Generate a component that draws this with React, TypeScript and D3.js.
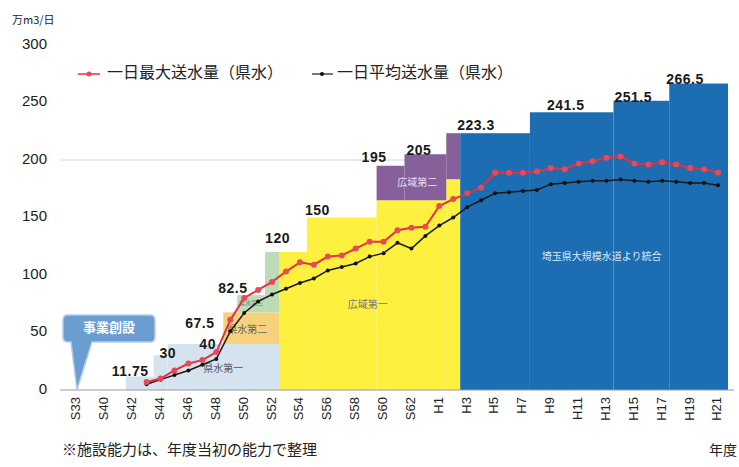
import React from 'react';
import * as d3 from 'd3';

// categories on the x axis (one unlabeled slot between S33 and S40)
const years = [
  'S33', ' ', 'S40', 'S41', 'S42', 'S43', 'S44', 'S45', 'S46', 'S47', 'S48', 'S49',
  'S50', 'S51', 'S52', 'S53', 'S54', 'S55', 'S56', 'S57', 'S58', 'S59', 'S60', 'S61',
  'S62', 'S63', 'H1', 'H2', 'H3', 'H4', 'H5', 'H6', 'H7', 'H8', 'H9', 'H10', 'H11',
  'H12', 'H13', 'H14', 'H15', 'H16', 'H17', 'H18', 'H19', 'H20', 'H21'
];

const lineYears = years.slice(5);

// 一日最大送水量（県水）
const maxFlow = [
  7, 10, 17, 23, 26, 33, 61, 80, 87, 94, 103, 111, 109, 116, 117, 123, 129, 129, 139, 141, 142,
  160, 166, 171, 176, 189, 189, 189, 190, 193, 192, 197, 199, 202, 203, 197, 196, 198, 196, 193, 192, 189
];

// 一日平均送水量（県水）
const avgFlow = [
  5, 9, 13, 17, 22, 27, 51, 67, 77, 83, 88, 93, 97, 104, 107, 110, 116, 119, 128, 123, 134,
  143, 150, 159, 165, 171, 172, 173, 174, 179, 180, 181, 182, 182, 183, 182, 181, 182, 181, 180, 180, 178
];

// 施設能力 (capacity) changes
const capYears = ['S42', 'S45', 'S48', 'S49', 'S50', 'S52', 'S55', 'S60', 'S62', 'H2', 'H8', 'H14', 'H18'];
const capValues = [11.75, 30, 40, 67.5, 82.5, 120, 150, 195, 205, 223.3, 241.5, 251.5, 266.5];

// capacity blocks by project
const layerNames = ['県水第一', '県水第二', '県水第三', '広域第一', '広域第二', '埼玉県大規模水道より統合'];
const blockLayer = [0, 0, 0, 1, 2, 2, 3, 3, 3, 3, 4, 4, 4, 5, 5, 5, 5];
const blockFrom = ['S42', 'S44', 'S45', 'S49', 'S50', 'S52', 'S53', 'S55', 'S60', 'H2', 'S60', 'S62', 'H2', 'H3', 'H8', 'H14', 'H18'];
const blockTo = ['S44', 'S45', 'S53', 'S53', 'S52', 'S53', 'S55', 'S60', 'H2', 'H3', 'S62', 'H2', 'H3', 'H8', 'H14', 'H18', null];
const blockLow = [0, 0, 0, 40, 67.5, 67.5, 0, 0, 0, 0, 165, 165, 183.3, 0, 0, 0, 0];
const blockHigh = [11.75, 30, 40, 67.5, 82.5, 120, 120, 150, 165, 183.3, 195, 205, 223.3, 223.3, 241.5, 251.5, 266.5];

const yTicks = [0, 50, 100, 150, 200, 250, 300];

// styling / layout
const layerColors = ['#d5e3ee', '#f7d27c', '#bcdbb6', '#fdf03e', '#85609a', '#1c6db2'];
const layerTextColors = ['#556', '#665', '#686', '#777', '#e8dff0', '#dbe8f5'];
const layerLabelBlock = [2, 3, 4, 7, 11, 14];
const layerLabelNudge = [[0, 2], [-4, 2], [0, 0], [26, 2], [-8, 6], [30, 6]];
const capNudge = [[-14, 0], [-8, 2], [-10, 5], [-38, 16], [-19, -2], [0, -9], [-2, -3], [-15, -4], [2, 1], [11, -3], [17, -2], [1, 1], [-3, 0]];

const W = 739;
const H = 467;
const plotLeft = 60;
const plotRight = 728;
const numFont = "'Liberation Sans', Arial, sans-serif";
const jpFont = "'Noto Sans CJK JP', 'Noto Sans', sans-serif";

const App: React.FC = () => {
  const x = d3.scaleBand<string>().domain(years).range([70, 725]).padding(0);
  const y = d3.scaleLinear().domain([0, 300]).range([390, 45]);
  const bw = x.bandwidth();
  const xc = (c: string) => (x(c) as number) + bw / 2;

  const line = d3.line<number>()
    .x((_, i) => xc(lineYears[i]))
    .y(d => y(d));

  const blocks = blockLayer.map((layer, i) => {
    const x0 = x(blockFrom[i]) as number;
    const to = blockTo[i];
    const x1 = to ? (x(to) as number) : plotRight;
    return { layer, x0, x1, y0: y(blockLow[i]), y1: y(blockHigh[i]) };
  });

  const tipX = xc('S33');
  const tipY = y(0);
  const bx0 = tipX - 14, bx1 = tipX + 78, by0 = tipY - 75, by1 = tipY - 48;
  const calloutPath = `M ${bx0 + 5} ${by0} H ${bx1 - 5} Q ${bx1} ${by0} ${bx1} ${by0 + 5} V ${by1 - 5} Q ${bx1} ${by1} ${bx1 - 5} ${by1} H ${tipX + 15} L ${tipX} ${tipY} L ${tipX - 6} ${by1} H ${bx0 + 5} Q ${bx0} ${by1} ${bx0} ${by1 - 5} V ${by0 + 5} Q ${bx0} ${by0} ${bx0 + 5} ${by0} Z`;

  return (
    <svg width={W} height={H} style={{ position: 'absolute', left: 0, top: 0, background: '#fff' }}>
      {/* faint guide line */}
      <line x1={plotLeft} x2={plotRight} y1={y(200)} y2={y(200)} stroke="#d4d4d4" strokeWidth={1} />

      {/* capacity blocks */}
      {blocks.map((b, i) => (
        <rect key={i} x={b.x0} y={b.y1} width={b.x1 - b.x0} height={b.y0 - b.y1} fill={layerColors[b.layer]} />
      ))}

      {/* block labels */}
      {layerNames.map((name, li) => {
        const b = blocks[layerLabelBlock[li]];
        const [dx, dy] = layerLabelNudge[li];
        return (
          <text key={name} x={(b.x0 + b.x1) / 2 + dx} y={(b.y0 + b.y1) / 2 + dy}
            textAnchor="middle" dominantBaseline="middle" fontSize={li === 2 ? 6 : 10}
            fontFamily={jpFont} fill={layerTextColors[li]}>{name}</text>
        );
      })}

      {/* axis baseline */}
      <line x1={plotLeft} x2={plotRight + 6} y1={y(0)} y2={y(0)} stroke="#9a9a9a" strokeWidth={1} />

      {/* y ticks */}
      {yTicks.map(t => (
        <text key={t} x={47} y={y(t)} textAnchor="end" dominantBaseline="middle"
          fontSize={15} fontFamily={numFont} fill="#222">{t}</text>
      ))}
      <text x={12} y={24} fontSize={11} fontFamily={jpFont} fill="#222">万m3/日</text>

      {/* x ticks */}
      {years.map((c, i) => i % 2 === 0 ? (
        <text key={c} transform={`translate(${xc(c)},397) rotate(-90)`} textAnchor="end"
          dominantBaseline="middle" fontSize={13} fontFamily={numFont} fill="#222">{c}</text>
      ) : null)}

      {/* lines */}
      <path d={line(avgFlow) || ''} fill="none" stroke="#1a1a1a" strokeWidth={1.5} />
      {avgFlow.map((v, i) => (
        <circle key={i} cx={xc(lineYears[i])} cy={y(v)} r={2} fill="#111" />
      ))}
      <path d={line(maxFlow) || ''} fill="none" stroke="#e8303a" strokeWidth={2} />
      {maxFlow.map((v, i) => (
        <circle key={i} cx={xc(lineYears[i])} cy={y(v)} r={3} fill="#e44a5c" />
      ))}

      {/* capacity labels */}
      {capValues.map((v, i) => (
        <text key={i} x={(x(capYears[i]) as number) + capNudge[i][0]} y={y(v) + capNudge[i][1]}
          fontSize={14} fontWeight="bold" letterSpacing={0.5} fontFamily={numFont} fill="#1a1a1a">{String(v)}</text>
      ))}

      {/* callout */}
      <path d={calloutPath} fill="#6b9dd0" stroke="#b5cde8" strokeWidth={1.5} />
      <text x={(bx0 + bx1) / 2} y={(by0 + by1) / 2} textAnchor="middle" dominantBaseline="middle"
        fontSize={13} fontWeight="bold" fontFamily={jpFont} fill="#fff">事業創設</text>

      {/* legend */}
      <line x1={78} x2={100} y1={74} y2={74} stroke="#e8303a" strokeWidth={1.5} />
      <circle cx={89} cy={74} r={2.5} fill="#e44a5c" />
      <text x={107} y={74} dominantBaseline="middle" fontSize={16} fontFamily={jpFont} fill="#222">一日最大送水量（県水）</text>
      <line x1={312} x2={333} y1={74} y2={74} stroke="#1a1a1a" strokeWidth={1.2} />
      <circle cx={322} cy={74} r={2} fill="#111" />
      <text x={337} y={74} dominantBaseline="middle" fontSize={16} fontFamily={jpFont} fill="#222">一日平均送水量（県水）</text>

      {/* notes */}
      <text x={62} y={451} dominantBaseline="middle" fontSize={15} fontFamily={jpFont} fill="#222">※施設能力は、年度当初の能力で整理</text>
      <text x={737} y={451} textAnchor="end" dominantBaseline="middle" fontSize={14} fontFamily={jpFont} fill="#222">年度</text>
    </svg>
  );
};

export default App;
